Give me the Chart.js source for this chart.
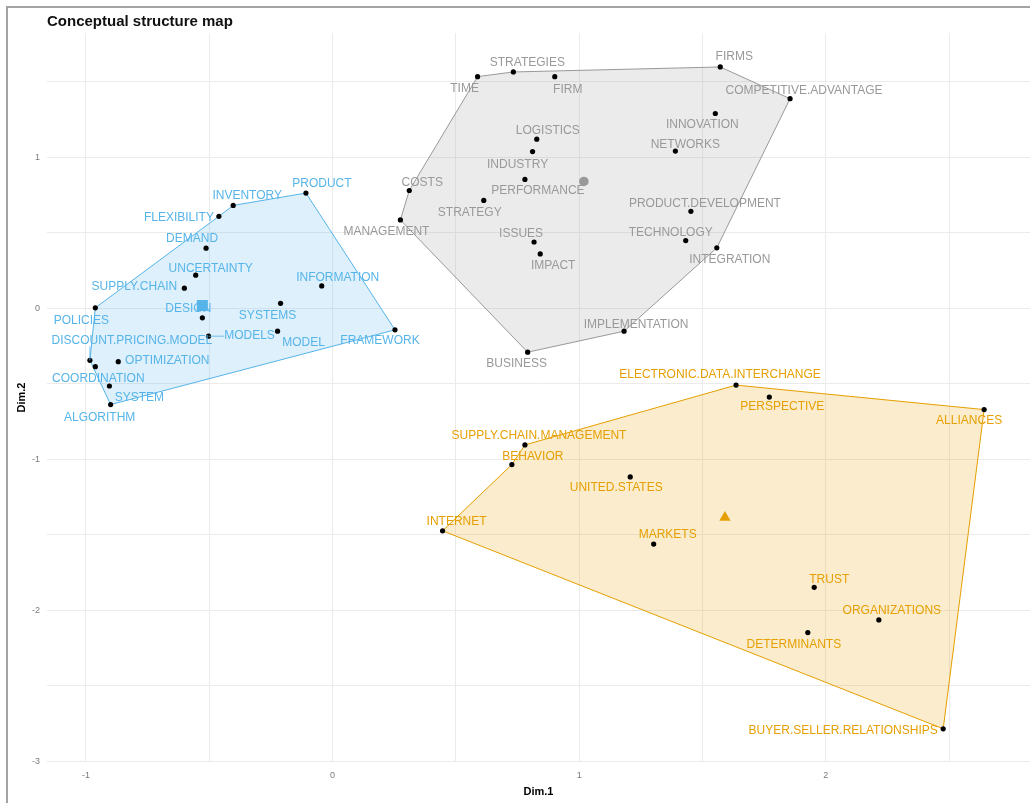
<!DOCTYPE html>
<html>
<head>
<meta charset="utf-8">
<script src="https://cdn.jsdelivr.net/npm/chart.js@4/dist/chart.umd.min.js"></script>
<style>
  html, body { margin: 0; padding: 0; background: #ffffff; }
  canvas { display: block; }
</style>
</head>
<body>
<canvas id="c" width="1030" height="803"></canvas>
<script>
// ---------------- DATA ----------------
const chartTitle = 'Conceptual structure map';
const xTitle = 'Dim.1';
const yTitle = 'Dim.2';

// Cluster 1 (blue)
const blueTerms = ['PRODUCT','INVENTORY','FLEXIBILITY','DEMAND','UNCERTAINTY','SUPPLY.CHAIN','DESIGN','SYSTEMS','INFORMATION','MODELS','MODEL','FRAMEWORK','POLICIES','DISCOUNT.PRICING.MODEL','COORDINATION','OPTIMIZATION','SYSTEM','ALGORITHM'];
const blueDim1 = [-0.108,-0.403,-0.461,-0.513,-0.555,-0.601,-0.528,-0.211,-0.044,-0.503,-0.223,0.253,-0.962,-0.984,-0.962,-0.869,-0.905,-0.900];
const blueDim2 = [0.763,0.681,0.609,0.398,0.219,0.133,-0.063,0.033,0.148,-0.185,-0.152,-0.143,0.003,-0.345,-0.387,-0.354,-0.515,-0.638];
const blueCentroid = [-0.528, 0.018];
const blueHull = ['POLICIES','FLEXIBILITY','INVENTORY','PRODUCT','FRAMEWORK','ALGORITHM','DISCOUNT.PRICING.MODEL'];

// Cluster 2 (gray)
const grayTerms = ['TIME','STRATEGIES','FIRM','LOGISTICS','INDUSTRY','PERFORMANCE','COSTS','STRATEGY','MANAGEMENT','ISSUES','IMPACT','IMPLEMENTATION','BUSINESS','NETWORKS','FIRMS','COMPETITIVE.ADVANTAGE','INNOVATION','PRODUCT.DEVELOPMENT','TECHNOLOGY','INTEGRATION'];
const grayDim1 = [0.588,0.733,0.901,0.828,0.811,0.780,0.311,0.613,0.275,0.817,0.842,1.182,0.791,1.390,1.572,1.855,1.552,1.453,1.432,1.558];
const grayDim2 = [1.534,1.565,1.534,1.120,1.038,0.853,0.780,0.714,0.585,0.439,0.360,-0.152,-0.291,1.041,1.598,1.388,1.290,0.642,0.448,0.400];
const grayCentroid = [1.019, 0.840];
const grayHull = ['TIME','STRATEGIES','FIRMS','COMPETITIVE.ADVANTAGE','INTEGRATION','IMPLEMENTATION','BUSINESS','MANAGEMENT','COSTS'];

// Cluster 3 (orange)
const orangeTerms = ['SUPPLY.CHAIN.MANAGEMENT','BEHAVIOR','UNITED.STATES','INTERNET','MARKETS','ELECTRONIC.DATA.INTERCHANGE','PERSPECTIVE','ALLIANCES','TRUST','ORGANIZATIONS','DETERMINANTS','BUYER.SELLER.RELATIONSHIPS'];
const orangeDim1 = [0.780,0.727,1.207,0.446,1.302,1.636,1.771,2.642,1.953,2.215,1.927,2.476];
const orangeDim2 = [-0.905,-1.035,-1.117,-1.474,-1.562,-0.509,-0.588,-0.671,-1.848,-2.064,-2.148,-2.785];
const orangeCentroid = [1.591, -1.385];
const orangeHull = ['INTERNET','BEHAVIOR','SUPPLY.CHAIN.MANAGEMENT','ELECTRONIC.DATA.INTERCHANGE','ALLIANCES','BUYER.SELLER.RELATIONSHIPS'];

// Axis ranges and tick labels
const xRange = [-1.158, 2.828];
const yRange = [-3.005, 1.823];
const tickStep = 0.5;

// ---------------- LAYOUT / STYLE (label nudges in px, repel-like) ----------------
const labelNudge = {
  'PRODUCT':[16,-9],'INVENTORY':[14,-10],'FLEXIBILITY':[-40,1],'DEMAND':[-14,-9],'UNCERTAINTY':[15,-7],
  'SUPPLY.CHAIN':[-50,-1],'DESIGN':[-14,-9],'SYSTEMS':[-13,12],'INFORMATION':[16,-8],'MODELS':[41,-1],
  'MODEL':[26,11],'FRAMEWORK':[-15,11],'POLICIES':[-14,13],'DISCOUNT.PRICING.MODEL':[42,-20],
  'COORDINATION':[3,12],'OPTIMIZATION':[49,-1],'SYSTEM':[30,12],'ALGORITHM':[-11,13],
  'STRATEGIES':[14,-9],'TIME':[-13,12],'FIRM':[13,13],'LOGISTICS':[11,-8],'INDUSTRY':[-15,13],
  'PERFORMANCE':[13,11],'COSTS':[13,-8],'STRATEGY':[-14,12],'MANAGEMENT':[-14,12],'ISSUES':[-13,-8],
  'IMPACT':[13,12],'IMPLEMENTATION':[12,-7],'BUSINESS':[-11,11],'FIRMS':[14,-10],
  'COMPETITIVE.ADVANTAGE':[14,-8],'INNOVATION':[-13,11],'NETWORKS':[10,-6],'PRODUCT.DEVELOPMENT':[14,-8],
  'TECHNOLOGY':[-15,-8],'INTEGRATION':[13,12],
  'ELECTRONIC.DATA.INTERCHANGE':[-16,-10],'PERSPECTIVE':[13,10],'ALLIANCES':[-15,11],
  'SUPPLY.CHAIN.MANAGEMENT':[14,-9],'BEHAVIOR':[21,-8],'UNITED.STATES':[-14,11],'INTERNET':[14,-9],
  'MARKETS':[14,-9],'TRUST':[15,-8],'ORGANIZATIONS':[13,-9],'DETERMINANTS':[-14,12],
  'BUYER.SELLER.RELATIONSHIPS':[-100,2]
};

const LABEL_FONT = "12px 'Liberation Sans', Arial, sans-serif";

const clusters = [
  { terms: blueTerms, d1: blueDim1, d2: blueDim2, centroid: blueCentroid, hull: blueHull,
    color: '#56B4E9', fill: 'rgba(86,180,233,0.2)', marker: 'rect', markerRadius: 7.8 },
  { terms: grayTerms, d1: grayDim1, d2: grayDim2, centroid: grayCentroid, hull: grayHull,
    color: '#999999', fill: 'rgba(153,153,153,0.2)', marker: 'circle', markerRadius: 4.8 },
  { terms: orangeTerms, d1: orangeDim1, d2: orangeDim2, centroid: orangeCentroid, hull: orangeHull,
    color: '#E69F00', fill: 'rgba(230,159,0,0.2)', marker: 'triangle', markerRadius: 6.5 }
];

// ---------------- DATASETS ----------------
const datasets = [];
clusters.forEach((c, ci) => {
  const hullPts = c.hull.map(name => {
    const i = c.terms.indexOf(name);
    return { x: c.d1[i], y: c.d2[i] };
  });
  hullPts.push(hullPts[0]);
  datasets.push({
    label: 'hull' + ci, data: hullPts, showLine: true, fill: 'shape',
    borderColor: c.color, backgroundColor: c.fill, borderWidth: 1,
    pointRadius: 0, tension: 0, order: 3
  });
});
clusters.forEach((c, ci) => {
  datasets.push({
    label: 'centroid' + ci, data: [{ x: c.centroid[0], y: c.centroid[1] }],
    pointStyle: c.marker, pointRadius: c.markerRadius, backgroundColor: c.color,
    borderColor: c.color, borderWidth: 0, order: 2
  });
});
clusters.forEach((c, ci) => {
  datasets.push({
    label: 'terms' + ci,
    data: c.terms.map((t, i) => ({ x: c.d1[i], y: c.d2[i] })),
    pointRadius: 2.6, backgroundColor: '#000000', borderWidth: 0, order: 1
  });
});

// ---------------- PLUGINS ----------------
const framePlugin = {
  id: 'frame',
  beforeDraw(chart) {
    const ctx = chart.ctx;
    ctx.save();
    ctx.fillStyle = '#ffffff';
    ctx.fillRect(0, 0, chart.width, chart.height);
    ctx.restore();
  },
  afterDraw(chart) {
    const ctx = chart.ctx;
    ctx.save();
    ctx.fillStyle = '#a3a3a3';
    ctx.fillRect(6, 6, 2, chart.height - 6);
    ctx.fillRect(6, 6, chart.width - 6, 2);
    ctx.fillStyle = '#111111';
    ctx.font = "bold 15px 'Liberation Sans', Arial, sans-serif";
    ctx.textAlign = 'left';
    ctx.textBaseline = 'alphabetic';
    ctx.fillText(chartTitle, chart.chartArea.left, 26);
    ctx.restore();
  }
};

const labelPlugin = {
  id: 'termLabels',
  afterDatasetsDraw(chart) {
    const ctx = chart.ctx;
    const xs = chart.scales.x, ys = chart.scales.y;
    ctx.save();
    ctx.font = LABEL_FONT;
    ctx.textAlign = 'center';
    ctx.textBaseline = 'middle';
    clusters.forEach(c => {
      c.terms.forEach((t, i) => {
        const px = xs.getPixelForValue(c.d1[i]);
        const py = ys.getPixelForValue(c.d2[i]);
        const nd = labelNudge[t] || [0, -10];
        const cx = px + nd[0], cy = py + nd[1];
        const w = ctx.measureText(t).width, h = 12;
        const dxb = Math.max(Math.abs(px - cx) - w / 2, 0);
        const dyb = Math.max(Math.abs(py - cy) - h / 2, 0);
        if (Math.hypot(dxb, dyb) > 10) {
          const ex = Math.min(Math.max(px, cx - w / 2), cx + w / 2);
          const ey = Math.min(Math.max(py, cy - h / 2), cy + h / 2);
          ctx.strokeStyle = c.color;
          ctx.lineWidth = 0.8;
          ctx.beginPath();
          ctx.moveTo(px, py);
          ctx.lineTo(ex, ey);
          ctx.stroke();
        }
        ctx.fillStyle = c.color;
        ctx.fillText(t, cx, cy);
      });
    });
    ctx.restore();
  }
};

// ---------------- CHART ----------------
const tickLabel = v => (Math.abs(v - Math.round(v)) < 1e-9 ? String(Math.round(v)) : '');

new Chart(document.getElementById('c'), {
  type: 'scatter',
  data: { datasets },
  options: {
    responsive: false,
    animation: false,
    events: [],
    layout: { autoPadding: false, padding: { top: 33, left: 0, right: 0, bottom: 0 } },
    plugins: {
      legend: { display: false },
      tooltip: { enabled: false },
      title: { display: false }
    },
    scales: {
      x: {
        type: 'linear', min: xRange[0], max: xRange[1],
        afterFit: s => { s.height = 41; },
        border: { display: false },
        grid: { color: '#ebebeb', lineWidth: 1, drawTicks: false },
        ticks: { stepSize: tickStep, includeBounds: false, autoSkip: false, maxRotation: 0,
                 padding: 8, color: '#7a7a7a', font: { size: 9, family: "'Liberation Sans', Arial, sans-serif" },
                 callback: tickLabel },
        title: { display: true, text: xTitle, color: '#000',
                 font: { size: 11, weight: 'bold', family: "'Liberation Sans', Arial, sans-serif" },
                 padding: { top: 4.4, bottom: 4.4 } }
      },
      y: {
        type: 'linear', min: yRange[0], max: yRange[1],
        afterFit: s => { s.width = 47; },
        border: { display: false },
        grid: { color: '#ebebeb', lineWidth: 1, drawTicks: false },
        ticks: { stepSize: tickStep, includeBounds: false, autoSkip: false,
                 padding: 7, color: '#7a7a7a', font: { size: 9, family: "'Liberation Sans', Arial, sans-serif" },
                 callback: tickLabel },
        title: { display: true, text: yTitle, color: '#000',
                 font: { size: 11, weight: 'bold', family: "'Liberation Sans', Arial, sans-serif" },
                 padding: { top: 15.4, bottom: 0 } }
      }
    }
  },
  plugins: [framePlugin, labelPlugin]
});
</script>
</body>
</html>
